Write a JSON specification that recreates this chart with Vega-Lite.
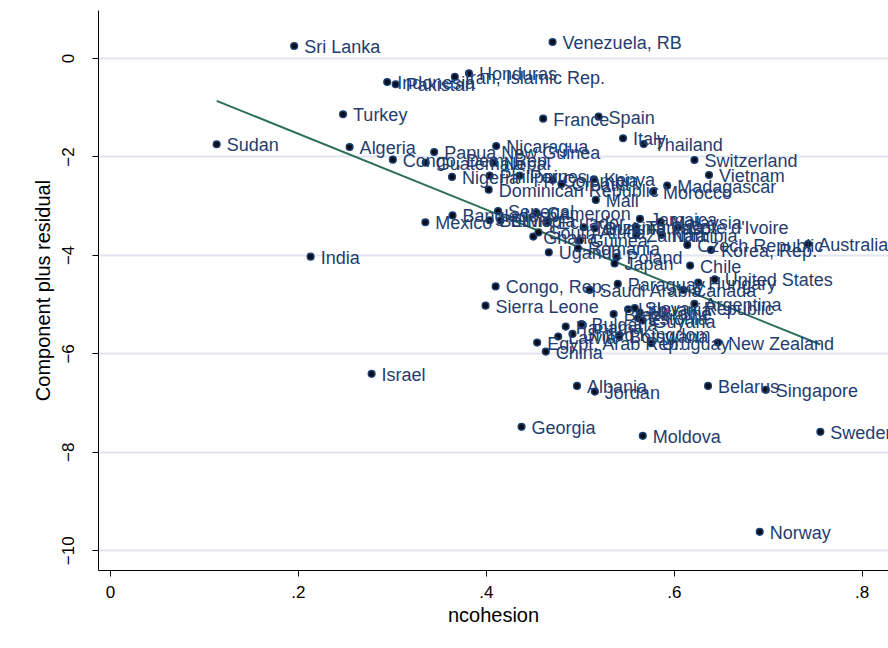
{
  "$schema": "https://vega.github.io/schema/vega-lite/v6.json",
  "width": 790,
  "height": 560,
  "autosize": "none",
  "padding": {"left": 98, "top": 10, "right": 0, "bottom": 78},
  "background": "white",
  "config": {
    "view": {"stroke": null},
    "font": "Liberation Sans",
    "axis": {"domainColor": "black", "tickColor": "black", "labelColor": "black", "titleColor": "black", "titleFontWeight": "normal", "labelFont": "Liberation Sans", "titleFont": "Liberation Sans"}
  },
  "datasets": {
    "fit": [
      {"x": 0.1135, "y": -0.87},
      {"x": 0.756, "y": -5.82}
    ],
    "pts": [
      {"country": "Sri Lanka", "x": 0.196, "y": 0.244},
      {"country": "Venezuela, RB", "x": 0.471, "y": 0.325},
      {"country": "Indonesia", "x": 0.295, "y": -0.487},
      {"country": "Pakistan", "x": 0.304, "y": -0.534},
      {"country": "Iran, Islamic Rep.", "x": 0.367, "y": -0.38},
      {"country": "Honduras", "x": 0.382, "y": -0.311},
      {"country": "Turkey", "x": 0.248, "y": -1.143},
      {"country": "Sudan", "x": 0.1135, "y": -1.752},
      {"country": "Algeria", "x": 0.255, "y": -1.807},
      {"country": "Papua New Guinea", "x": 0.345, "y": -1.909},
      {"country": "Congo, Dem. Rep.", "x": 0.301, "y": -2.065},
      {"country": "Guatemala", "x": 0.336, "y": -2.126},
      {"country": "Nicaragua", "x": 0.411, "y": -1.787},
      {"country": "Nepal", "x": 0.408, "y": -2.126},
      {"country": "Nigeria", "x": 0.364, "y": -2.416},
      {"country": "Philippines", "x": 0.404, "y": -2.39},
      {"country": "Peru", "x": 0.436, "y": -2.39},
      {"country": "Colombia", "x": 0.471, "y": -2.477},
      {"country": "Croatia", "x": 0.4805, "y": -2.558},
      {"country": "Kenya", "x": 0.515, "y": -2.463},
      {"country": "Madagascar", "x": 0.593, "y": -2.593},
      {"country": "Morocco", "x": 0.578, "y": -2.715},
      {"country": "Dominican Republic", "x": 0.403, "y": -2.674},
      {"country": "Mali", "x": 0.517, "y": -2.883},
      {"country": "Switzerland", "x": 0.622, "y": -2.071},
      {"country": "Vietnam", "x": 0.6375, "y": -2.376},
      {"country": "Italy", "x": 0.546, "y": -1.63},
      {"country": "Thailand", "x": 0.568, "y": -1.746},
      {"country": "France", "x": 0.461, "y": -1.232},
      {"country": "Spain", "x": 0.52, "y": -1.192},
      {"country": "Bangladesh", "x": 0.3645, "y": -3.198},
      {"country": "Mexico", "x": 0.3356, "y": -3.336},
      {"country": "Senegal", "x": 0.413, "y": -3.107},
      {"country": "Bolivia", "x": 0.404, "y": -3.296},
      {"country": "Ethiopia", "x": 0.4156, "y": -3.299},
      {"country": "Cameroon", "x": 0.454, "y": -3.147},
      {"country": "Ecuador", "x": 0.466, "y": -3.33},
      {"country": "Tanzania", "x": 0.504, "y": -3.438},
      {"country": "Burkina Faso", "x": 0.516, "y": -3.458},
      {"country": "Jamaica", "x": 0.564, "y": -3.269},
      {"country": "Malaysia", "x": 0.586, "y": -3.33},
      {"country": "Tunisia", "x": 0.5596, "y": -3.431},
      {"country": "Cote d'Ivoire", "x": 0.6046, "y": -3.442},
      {"country": "Zambia", "x": 0.56, "y": -3.594},
      {"country": "Namibia", "x": 0.587, "y": -3.594},
      {"country": "Czech Republic", "x": 0.6144, "y": -3.797},
      {"country": "Korea, Rep.", "x": 0.6397, "y": -3.898},
      {"country": "Australia", "x": 0.743, "y": -3.777},
      {"country": "Ghana", "x": 0.4505, "y": -3.628},
      {"country": "South Africa", "x": 0.456, "y": -3.543},
      {"country": "Guinea", "x": 0.5, "y": -3.706},
      {"country": "Romania", "x": 0.498, "y": -3.864},
      {"country": "Uganda", "x": 0.467, "y": -3.949},
      {"country": "Poland", "x": 0.539, "y": -4.047},
      {"country": "Japan", "x": 0.537, "y": -4.173},
      {"country": "Chile", "x": 0.6174, "y": -4.217},
      {"country": "India", "x": 0.2135, "y": -4.035},
      {"country": "Congo, Rep.", "x": 0.4104, "y": -4.64},
      {"country": "Saudi Arabia", "x": 0.5103, "y": -4.711},
      {"country": "Paraguay", "x": 0.5404, "y": -4.589},
      {"country": "Hungary", "x": 0.626, "y": -4.562},
      {"country": "United States", "x": 0.6436, "y": -4.493},
      {"country": "Canada", "x": 0.61, "y": -4.711},
      {"country": "Argentina", "x": 0.622, "y": -4.995},
      {"country": "Sierra Leone", "x": 0.3997, "y": -5.03},
      {"country": "Brazil", "x": 0.536, "y": -5.202},
      {"country": "Lithuania", "x": 0.5514, "y": -5.103},
      {"country": "Slovak Republic", "x": 0.5585, "y": -5.082},
      {"country": "Ukraine", "x": 0.5638, "y": -5.172},
      {"country": "Estonia", "x": 0.562, "y": -5.285},
      {"country": "Guyana", "x": 0.5667, "y": -5.334},
      {"country": "Bulgaria", "x": 0.5018, "y": -5.407},
      {"country": "Panama", "x": 0.485, "y": -5.456},
      {"country": "United Kingdom", "x": 0.4922, "y": -5.604},
      {"country": "Latvia", "x": 0.477, "y": -5.659},
      {"country": "Egypt, Arab Rep.", "x": 0.4546, "y": -5.781},
      {"country": "China", "x": 0.4638, "y": -5.963},
      {"country": "Botswana", "x": 0.5418, "y": -5.645},
      {"country": "Uruguay", "x": 0.5763, "y": -5.793},
      {"country": "New Zealand", "x": 0.647, "y": -5.781},
      {"country": "Albania", "x": 0.497, "y": -6.66},
      {"country": "Jordan", "x": 0.516, "y": -6.776},
      {"country": "Belarus", "x": 0.6365, "y": -6.66},
      {"country": "Singapore", "x": 0.698, "y": -6.741},
      {"country": "Israel", "x": 0.2784, "y": -6.416},
      {"country": "Georgia", "x": 0.438, "y": -7.492},
      {"country": "Moldova", "x": 0.567, "y": -7.675},
      {"country": "Sweden", "x": 0.756, "y": -7.594},
      {"country": "Norway", "x": 0.6915, "y": -9.625}
    ]
  },
  "encoding": {
    "x": {
      "field": "x", "type": "quantitative",
      "scale": {"domain": [-0.0128, 0.828], "nice": false, "zero": false},
      "axis": {
        "title": "ncohesion", "values": [0, 0.2, 0.4, 0.6, 0.8],
        "labelExpr": "datum.value == 0 ? '0' : replace(format(datum.value, '.1f'), '0.', '.')",
        "grid": false, "tickSize": 6, "labelFontSize": 17, "labelPadding": 8,
        "titleFontSize": 20, "titlePadding": 5, "labelFlush": false
      }
    },
    "y": {
      "field": "y", "type": "quantitative",
      "scale": {"domain": [-10.4, 0.975], "nice": false, "zero": false},
      "axis": {
        "title": "Component plus residual", "values": [0, -2, -4, -6, -8, -10],
        "grid": true, "gridColor": "#e1e6f2", "gridWidth": 2,
        "tickSize": 6, "labelFontSize": 17, "labelAngle": -90, "labelAlign": "center", "labelBaseline": "bottom",
        "labelPadding": 15, "titleFontSize": 20, "titlePadding": 6, "labelFlush": false
      }
    }
  },
  "layer": [
    {
      "data": {"name": "fit"},
      "mark": {"type": "line", "color": "#2b6e5c", "strokeWidth": 2}
    },
    {
      "data": {"name": "pts"},
      "mark": {"type": "point", "shape": "circle", "filled": true, "size": 44, "fill": "#0d0d1a", "stroke": "#1a3f70", "strokeWidth": 1.5, "opacity": 1}
    },
    {
      "data": {"name": "pts"},
      "mark": {"type": "text", "align": "left", "baseline": "middle", "dx": 10, "dy": 2, "fontSize": 18, "color": "#1f3d6e", "font": "Liberation Sans"},
      "encoding": {"text": {"field": "country"}}
    }
  ]
}
